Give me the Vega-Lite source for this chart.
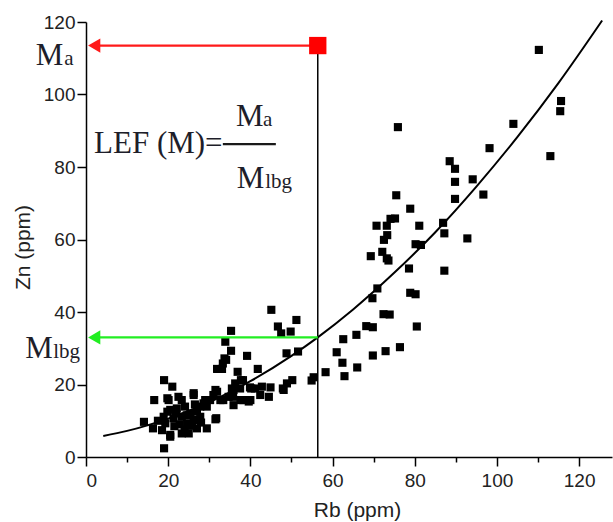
{
  "$schema": "https://vega.github.io/schema/vega-lite/v6.json",
  "width": 526,
  "height": 435,
  "autosize": "none",
  "padding": {"left": 86, "top": 22, "right": 1, "bottom": 65},
  "background": "white",
  "config": {"view": {"stroke": null}},
  "datasets": {
    "pts": [
      {"rb":110.2,"zn":112.3},{"rb":115.6,"zn":98.2},{"rb":115.4,"zn":95.4},{"rb":104,"zn":91.9},{"rb":98.2,"zn":85.2},{"rb":113,"zn":83.0},{"rb":88.5,"zn":81.6},{"rb":89.8,"zn":79.5},{"rb":94.1,"zn":76.6},{"rb":89.8,"zn":75.9},{"rb":89.8,"zn":71.2},{"rb":96.7,"zn":72.4},{"rb":86.9,"zn":64.6},
      {"rb":75.9,"zn":91.0},{"rb":75.5,"zn":72.2},{"rb":78.9,"zn":68.5},{"rb":70.7,"zn":63.8},{"rb":73.2,"zn":63.8},{"rb":74.1,"zn":65.7},{"rb":75.2,"zn":65.8},{"rb":81.1,"zn":63.8},{"rb":87.2,"zn":61.7},{"rb":92.8,"zn":60.3},{"rb":73.3,"zn":61.2},{"rb":72.5,"zn":59.9},{"rb":72.1,"zn":56.6},{"rb":69.3,"zn":55.4},{"rb":80.2,"zn":58.7},{"rb":81.5,"zn":58.5},{"rb":73.2,"zn":54.8},
      {"rb":73.6,"zn":54.2},{"rb":78.6,"zn":52.0},{"rb":87.2,"zn":51.4},{"rb":70.9,"zn":46.5},{"rb":69.7,"zn":43.8},{"rb":78.9,"zn":45.3},{"rb":80.2,"zn":44.9},{"rb":72.4,"zn":39.4},{"rb":73.9,"zn":39.3},{"rb":68.2,"zn":36.1},{"rb":69.8,"zn":35.8},{"rb":80.5,"zn":36.0},{"rb":62.6,"zn":32.5},{"rb":65.8,"zn":33.7},{"rb":61.0,"zn":28.9},{"rb":62.4,"zn":26.0},{"rb":66.0,"zn":24.7},{"rb":69.8,"zn":28.0},{"rb":72.9,"zn":29.2},{"rb":76.4,"zn":30.3},{"rb":58.3,"zn":23.4},{"rb":62.9,"zn":22.3},{"rb":54.9,"zn":21.1},{"rb":55.4,"zn":22.0},
      {"rb":45.1,"zn":40.6},{"rb":51.2,"zn":37.8},{"rb":46.7,"zn":36.0},{"rb":47.5,"zn":34.1},{"rb":49.8,"zn":34.6},{"rb":35.3,"zn":34.8},{"rb":33.9,"zn":31.8},{"rb":35.3,"zn":29.3},{"rb":39.2,"zn":27.9},{"rb":48.8,"zn":28.6},{"rb":51.6,"zn":29.1},{"rb":33.7,"zn":27.2},{"rb":33.3,"zn":25.8},{"rb":31.9,"zn":24.3},{"rb":33.1,"zn":24.3},{"rb":36.9,"zn":23.5},{"rb":41.8,"zn":24.3},{"rb":38.2,"zn":21.2},{"rb":36.3,"zn":20.3},{"rb":31.5,"zn":18.5},{"rb":50.2,"zn":21.2},{"rb":48.9,"zn":20.3},{"rb":48.1,"zn":18.5},{"rb":44.9,"zn":19.2},{"rb":42.8,"zn":19.4},{"rb":42.4,"zn":17.1},{"rb":44.5,"zn":16.6},{"rb":40.0,"zn":15.7},
      {"rb":35.5,"zn":18.9},{"rb":37.5,"zn":18.9},{"rb":39.9,"zn":19.2},{"rb":41.1,"zn":18.9},{"rb":31.0,"zn":17.1},{"rb":29.0,"zn":15.7},{"rb":33.4,"zn":15.7},{"rb":35.8,"zn":16.6},{"rb":38.3,"zn":15.7},
      {"rb":19.0,"zn":2.4},{"rb":19.0,"zn":21.2},{"rb":21.0,"zn":19.4},{"rb":16.6,"zn":15.7},{"rb":14.1,"zn":9.7},{"rb":16.3,"zn":7.9},{"rb":19.8,"zn":16.2},{"rb":26.2,"zn":17.1},{"rb":22.5,"zn":16.6},{"rb":34.1,"zn":26.8},{"rb":47.9,"zn":18.9},{"rb":40.2,"zn":18.9},{"rb":39.6,"zn":15.3},{"rb":37.6,"zn":15.7},{"rb":35.9,"zn":14.3},{"rb":34.7,"zn":16.6},{"rb":35.9,"zn":18.5},{"rb":37.7,"zn":21.2},{"rb":31.9,"zn":18.0},{"rb":29.4,"zn":13.9},{"rb":27.8,"zn":13.9},{"rb":31.7,"zn":10.7},{"rb":29.4,"zn":7.9},{"rb":27.0,"zn":7.9},{"rb":25.0,"zn":6.5},{"rb":23.3,"zn":6.5},{"rb":20.5,"zn":6.1},{"rb":18.5,"zn":7.4},{"rb":19.3,"zn":9.3},{"rb":21.3,"zn":10.7},{"rb":23.3,"zn":11.1},{"rb":24.6,"zn":9.3},{"rb":26.2,"zn":10.2},{"rb":27.8,"zn":11.1},{"rb":22.1,"zn":13.4},{"rb":24.1,"zn":13.9},{"rb":23.3,"zn":15.7},{"rb":20.5,"zn":13.0},{"rb":18.9,"zn":11.1},{"rb":25.4,"zn":12.0},{"rb":27.0,"zn":12.5},{"rb":28.6,"zn":14.8},{"rb":30.2,"zn":15.7},{"rb":32.7,"zn":15.7},{"rb":26.2,"zn":17.6},{"rb":20.1,"zn":15.7},{"rb":20.5,"zn":5.6},{"rb":31.5,"zn":10.4},
      {"rb":21.5,"zn":8.5},{"rb":22.8,"zn":9.0},{"rb":24.0,"zn":7.5},{"rb":25.8,"zn":8.6},{"rb":21.9,"zn":12.0},{"rb":26.5,"zn":14.5},{"rb":28.0,"zn":9.5},{"rb":24.5,"zn":11.5},{"rb":19.8,"zn":12.5},{"rb":17.5,"zn":10.0}
    ],
    "curve": [
      {"rb":4.2,"zn":5.8},{"rb":10,"zn":7.2},{"rb":20,"zn":10.6},{"rb":30,"zn":15.1},{"rb":40,"zn":20.9},{"rb":50,"zn":27.9},{"rb":56.4,"zn":33.0},{"rb":65,"zn":40.7},{"rb":75,"zn":50.8},{"rb":85,"zn":62.0},{"rb":95,"zn":74.6},{"rb":105,"zn":88.3},{"rb":115,"zn":103.2},{"rb":125.6,"zn":120.4}
    ],
    "arrows": [
      {"kind":"Ma","from":2,"to":56.4,"zn":113.5},
      {"kind":"Mlbg","from":2,"to":56.4,"zn":33.0}
    ],
    "bigText": [
      {"t":"M","rb":-12.2,"zn":108.1},
      {"t":"M","rb":-14.8,"zn":27.3},
      {"t":"LEF (M)=","rb":1.95,"zn":83.9},
      {"t":"M","rb":36.5,"zn":91.3},
      {"t":"M","rb":36.7,"zn":74.2}
    ],
    "smallText": [
      {"t":"a","rb":-5.3,"zn":108.1},
      {"t":"lbg","rb":-8.0,"zn":27.3},
      {"t":"a","rb":43.1,"zn":91.3},
      {"t":"lbg","rb":43.6,"zn":74.2}
    ]
  },
  "layer": [
    {
      "data": {"name": "curve"},
      "mark": {"type": "line", "color": "black", "strokeWidth": 2, "interpolate": "monotone"},
      "encoding": {
        "x": {"field": "rb", "type": "quantitative", "scale": {"domain": [0, 128], "nice": false, "zero": false},
          "axis": {
            "values": [0,10,20,30,40,50,60,70,80,90,100,110,120],
            "labelExpr": "datum.value % 20 === 0 ? datum.label : ''",
            "tickSize": {"condition": {"test": "datum.value % 20 === 0", "value": 9}, "value": 5},
            "grid": false, "domainColor": "black", "domainWidth": 1.5, "tickColor": "black", "tickWidth": 1.5,
            "labelFont": "Liberation Sans", "labelFontSize": 19, "labelColor": "#222", "labelPadding": 5,
            "title": "Rb (ppm)", "titleFont": "Liberation Sans", "titleFontSize": 21, "titleFontWeight": "normal", "titleColor": "#222", "titlePadding": 9, "titleX": 271
          }},
        "y": {"field": "zn", "type": "quantitative", "scale": {"domain": [0, 120], "nice": false},
          "axis": {
            "values": [0,10,20,30,40,50,60,70,80,90,100,110,120],
            "labelExpr": "datum.value % 20 === 0 ? datum.label : ''",
            "tickSize": {"condition": {"test": "datum.value % 20 === 0", "value": 9}, "value": 5},
            "grid": false, "domainColor": "black", "domainWidth": 1.5, "tickColor": "black", "tickWidth": 1.5,
            "labelFont": "Liberation Sans", "labelFontSize": 19, "labelColor": "#222", "labelPadding": 2,
            "title": "Zn (ppm)", "titleFont": "Liberation Sans", "titleFontSize": 21, "titleFontWeight": "normal", "titleColor": "#222", "titlePadding": 10, "titleY": 225
          }}
      }
    },
    {
      "data": {"name": "pts"},
      "mark": {"type": "point", "shape": "square", "filled": true, "color": "black", "opacity": 1, "size": 66},
      "encoding": {
        "x": {"field": "rb", "type": "quantitative"},
        "y": {"field": "zn", "type": "quantitative"}
      }
    },
    {
      "data": {"values": [{"rb": 56.4, "lo": 0, "hi": 113.5}]},
      "mark": {"type": "rule", "color": "black", "strokeWidth": 1.5},
      "encoding": {
        "x": {"field": "rb", "type": "quantitative"},
        "y": {"field": "lo", "type": "quantitative"},
        "y2": {"field": "hi"}
      }
    },
    {
      "data": {"name": "arrows"},
      "mark": {"type": "rule", "strokeWidth": 2.2},
      "encoding": {
        "x": {"field": "from", "type": "quantitative"},
        "x2": {"field": "to"},
        "y": {"field": "zn", "type": "quantitative"},
        "color": {"field": "kind", "type": "nominal", "scale": {"domain": ["Ma", "Mlbg"], "range": ["#ff1a1a", "#22ee22"]}, "legend": null}
      }
    },
    {
      "data": {"name": "arrows"},
      "mark": {"type": "point", "shape": "triangle-left", "filled": true, "opacity": 1, "size": 200},
      "encoding": {
        "x": {"field": "from", "type": "quantitative"},
        "y": {"field": "zn", "type": "quantitative"},
        "color": {"field": "kind", "type": "nominal", "legend": null}
      }
    },
    {
      "data": {"values": [{"rb": 56.4, "zn": 113.5}]},
      "mark": {"type": "point", "shape": "square", "filled": true, "color": "#ff0000", "opacity": 1, "size": 300},
      "encoding": {
        "x": {"field": "rb", "type": "quantitative"},
        "y": {"field": "zn", "type": "quantitative"}
      }
    },
    {
      "data": {"values": [{"a": 33.3, "b": 46.2, "zn": 86.3}]},
      "mark": {"type": "rule", "color": "#1a1a1a", "strokeWidth": 2.2},
      "encoding": {
        "x": {"field": "a", "type": "quantitative"},
        "x2": {"field": "b"},
        "y": {"field": "zn", "type": "quantitative"}
      }
    },
    {
      "data": {"name": "bigText"},
      "mark": {"type": "text", "font": "Liberation Serif", "fontSize": 31, "align": "left", "baseline": "alphabetic", "color": "#1e1e2a"},
      "encoding": {
        "x": {"field": "rb", "type": "quantitative"},
        "y": {"field": "zn", "type": "quantitative"},
        "text": {"field": "t"}
      }
    },
    {
      "data": {"name": "smallText"},
      "mark": {"type": "text", "font": "Liberation Serif", "fontSize": 21, "align": "left", "baseline": "alphabetic", "color": "#1e1e2a"},
      "encoding": {
        "x": {"field": "rb", "type": "quantitative"},
        "y": {"field": "zn", "type": "quantitative"},
        "text": {"field": "t"}
      }
    }
  ]
}
